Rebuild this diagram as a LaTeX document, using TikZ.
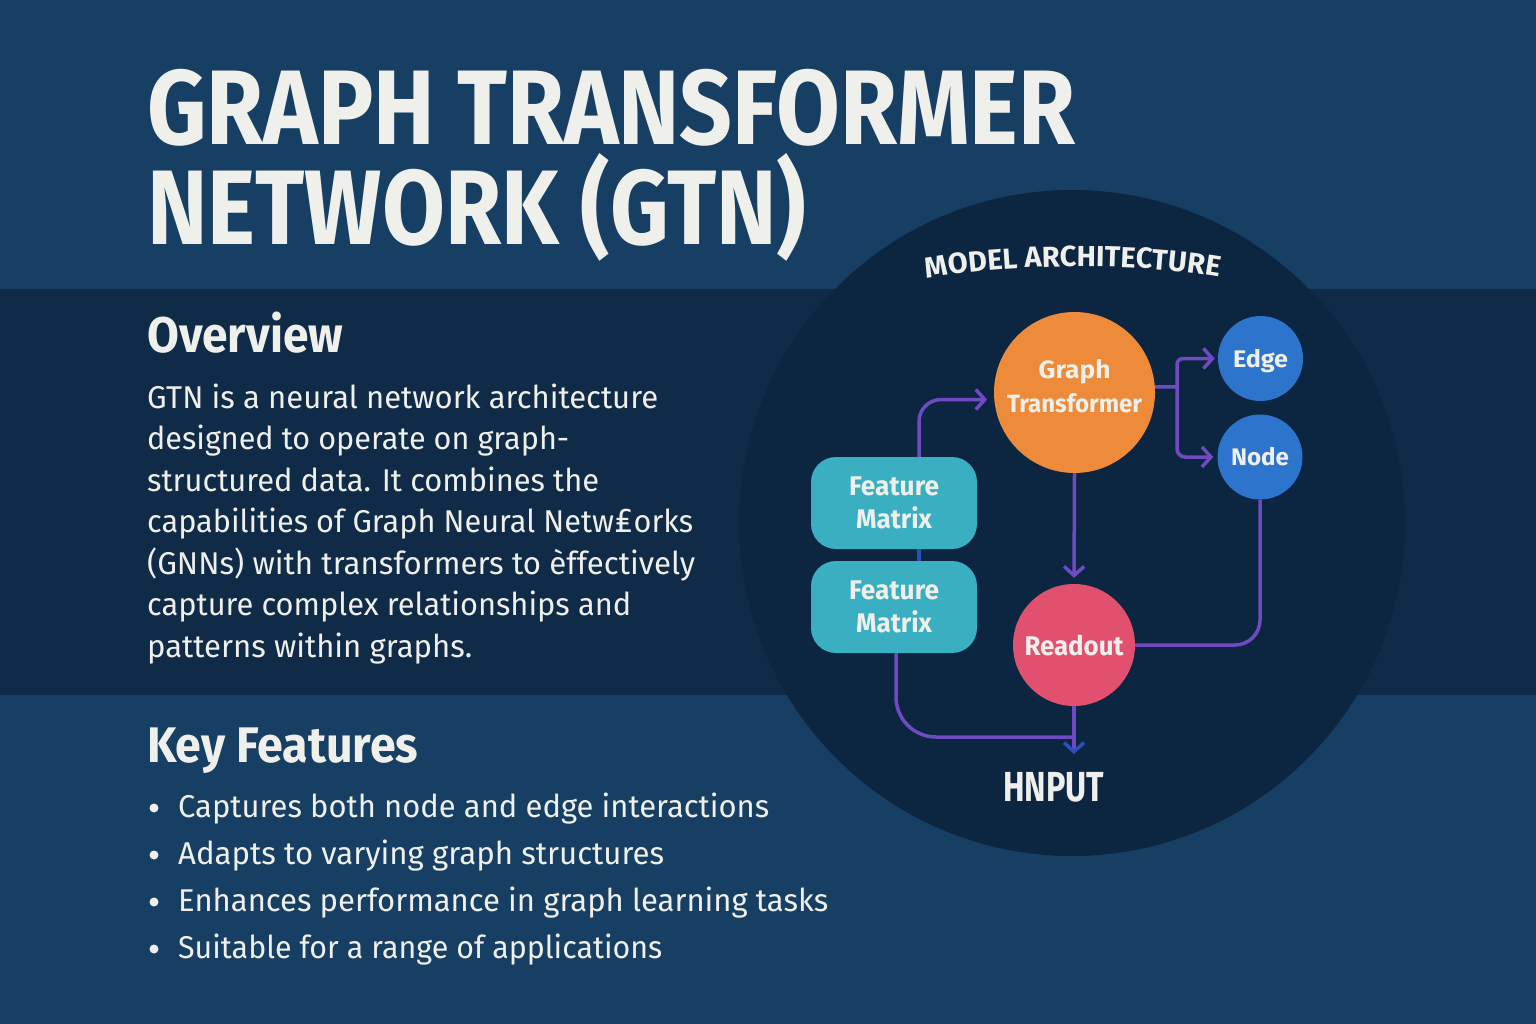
\documentclass[tikz,border=0pt]{standalone}
\usepackage{fontspec}
\usepackage{graphicx}
\usetikzlibrary{arrows.meta,decorations.text}
\newfontfamily\fira{Fira Sans}
\newfontfamily\dejavu{DejaVu Sans}
\definecolor{bgtop}{HTML}{173F63}
\definecolor{bgband}{HTML}{0F2B47}
\definecolor{circbg}{HTML}{0C2540}
\definecolor{txtw}{HTML}{EFF0EC}
\definecolor{orangeN}{HTML}{EE8B3A}
\definecolor{blueN}{HTML}{2D74CC}
\definecolor{tealN}{HTML}{3AAFC2}
\definecolor{pinkN}{HTML}{E2506F}
\definecolor{flowc}{HTML}{6E4BC2}
\definecolor{flowb}{HTML}{2A4FBF}
\newcommand{\fitw}[2]{\resizebox{#1pt}{\height}{#2}}
\newcommand{\fs}[2]{\fontsize{#1}{#2}\selectfont}
\begin{document}
\begin{tikzpicture}[x=1pt,y=-1pt,
  txt/.style={text=txtw, inner sep=0pt, anchor=base west},
  titlef/.style={txt, font=\fira\bfseries\fs{106}{106}},
  headf/.style={txt, font=\fira\bfseries\fs{50}{50}},
  bodyf/.style={txt, font=\fira\fs{31.5}{31.5}},
  nodecirc/.style={circle, draw=none, inner sep=0pt, text=txtw, align=center},
  fmbox/.style={rectangle, rounded corners=25pt, fill=tealN, draw=none, minimum width=166pt, minimum height=92pt, inner sep=0pt, text=txtw, align=center, font=\fira\bfseries\fs{27}{33}},
  flow/.style={draw=flowc, line width=3.5pt},
  barb/.style={-{Straight Barb[length=9pt,width=20pt]}},
  bullet/.style={circle, fill=txtw, inner sep=0pt, minimum size=9pt}
]
\useasboundingbox (0,0) rectangle (1536,1024);
% background
\fill[bgtop] (0,0) rectangle (1536,1024);
\fill[bgband] (0,289) rectangle (1536,695);
\fill[circbg] (1072,523) circle[radius=333];

% title
\node[titlef] (title1) at (147,145) {\fitw{928}{GRAPH TRANSFORMER}};
\node[titlef] (title2) at (147,245) {\fitw{659}{NETWORK (GTN)}};

% overview
\node[headf] (ovh) at (147,352) {\fitw{196}{Overview}};
\node[bodyf] (p1) at (147,408) {\fitw{511}{GTN is a neural network architecture}};
\node[bodyf] (p2) at (147,449.5) {\fitw{422}{designed to operate on graph-}};
\node[bodyf] (p3) at (147,491) {\fitw{452}{structured data. It combines the}};
\node[bodyf] (p4) at (147,532.5) {\fitw{546}{capabilities of Graph Neural Netw{\dejavu ₤}orks}};
\node[bodyf] (p5) at (147,574) {\fitw{548}{(GNNs) with transformers to èffectively}};
\node[bodyf] (p6) at (147,615.5) {\fitw{484}{capture complex relationships and}};
\node[bodyf] (p7) at (147,657) {\fitw{325}{patterns within graphs.}};

% key features
\node[headf] (kfh) at (147,762) {\fitw{271}{Key Features}};
\node[bullet] (b1) at (154,808) {};
\node[bullet] (b2) at (154,855) {};
\node[bullet] (b3) at (154,902) {};
\node[bullet] (b4) at (154,949) {};
\node[bodyf] (k1) at (178,817) {\fitw{591}{Captures both node and edge interactions}};
\node[bodyf] (k2) at (178,864) {\fitw{486}{Adapts to varying graph structures}};
\node[bodyf] (k3) at (178,911) {\fitw{650}{Enhances performance in graph learning tasks}};
\node[bodyf] (k4) at (178,958) {\fitw{484}{Suitable for a range of applications}};

% diagram heading along arc
\path[decorate, decoration={text along path, text align=center, text color=txtw,
  text={|\fira\bfseries\fs{29}{29}|MODEL ARCHITECTURE}}]
  (916,281) .. controls (1000,262) and (1146,262) .. (1230,279);

% nodes
\node[nodecirc, fill=orangeN, minimum size=161pt, text depth=12pt, font=\fira\bfseries\fs{25}{34}] (gt) at (1074.5,392.5) {\fitw{72}{Graph}\\\fitw{135}{Transformer}};
\node[nodecirc, fill=blueN, minimum size=85pt, text depth=0pt, font=\fira\bfseries\fs{24}{24}] (edge) at (1260.5,358.5) {\fitw{55}{Edge}};
\node[nodecirc, fill=blueN, minimum size=85pt, font=\fira\bfseries\fs{24}{24}] (nodec) at (1260,457) {\fitw{58}{Node}};
\node[fmbox] (fm1) at (894,503) {\fitw{90}{Feature}\\\fitw{76}{Matrix}};
\node[fmbox] (fm2) at (894,607) {\fitw{90}{Feature}\\\fitw{76}{Matrix}};
\node[nodecirc, fill=pinkN, minimum size=122pt, font=\fira\bfseries\fs{27}{27}] (ro) at (1074,645) {\fitw{99}{Readout}};
\node[text=txtw, inner sep=0pt, font=\fira\bfseries\fs{42}{42}] (inp) at (1053.5,787) {\fitw{101}{HNPUT}};

\coordinate (br) at (1177,387);
\coordinate (join) at (1074,737);
\coordinate (tip) at (1074,754);

% connectors
\draw[draw=flowb, line width=3.5pt] ([xshift=25pt]fm2.north) -- ([xshift=25pt]fm1.south);
\draw[flow, barb, rounded corners=22pt, shorten >=7pt] ([xshift=25pt]fm1.north) |- (gt.185);
\draw[flow, barb, shorten >=6pt] (gt.south) -- (ro.north);
\draw[flow] (gt.4) -- (br);
\draw[flow, barb, rounded corners=6pt, shorten >=3pt] (br) |- (edge.west);
\draw[flow, barb, rounded corners=8pt, shorten >=4pt] (br) |- (nodec.west);
\draw[flow, rounded corners=25pt] (nodec.south) |- (ro.east);
\draw[flow, rounded corners=40pt] ([xshift=2pt]fm2.south) |- (join);
\draw[flow, -{Straight Barb[length=9pt,width=20pt,color=flowb]}] (ro.south) -- (tip);
\end{tikzpicture}
\end{document}
